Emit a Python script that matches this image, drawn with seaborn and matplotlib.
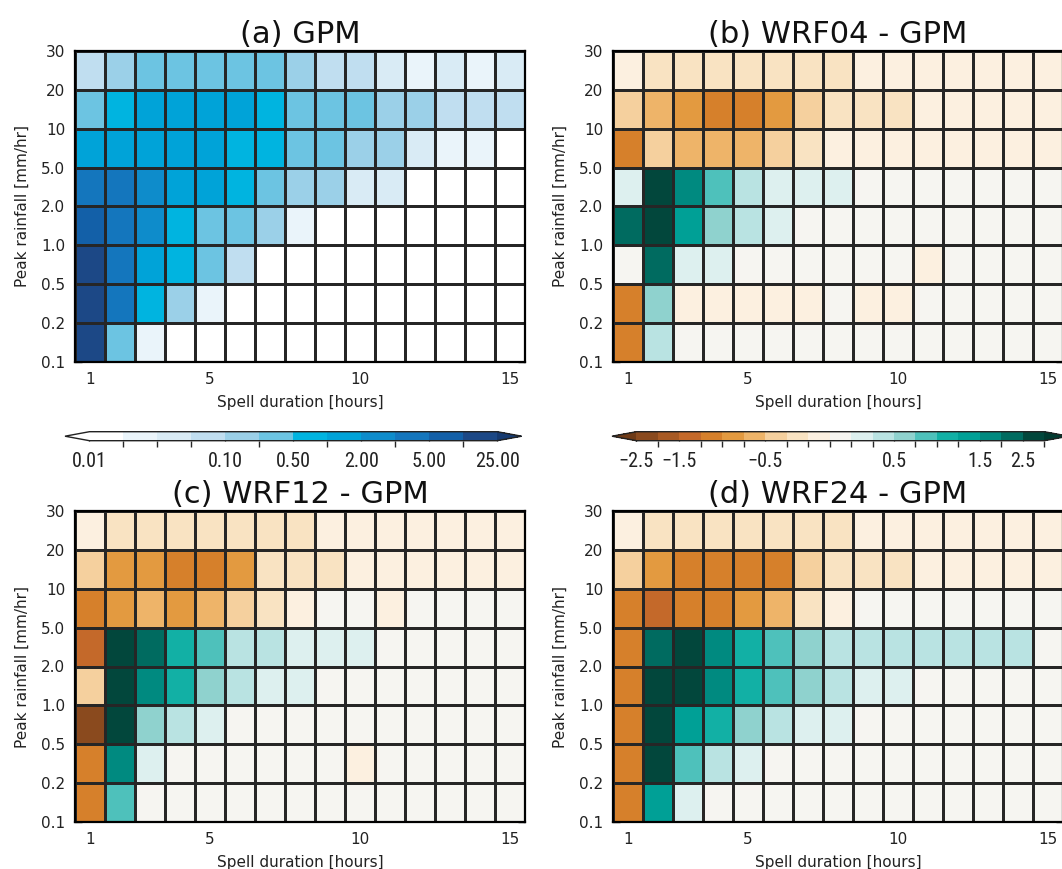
import os
import numpy as np
import matplotlib
matplotlib.use("Agg")
import matplotlib.pyplot as plt
from matplotlib import font_manager
from matplotlib.font_manager import FontProperties
from matplotlib.colors import ListedColormap, BoundaryNorm
import seaborn as sns

sns.set_theme(style="white")
plt.rcParams["font.family"] = ["DejaVu Sans"]


def narrow_font():
    """Return (FontProperties, size) for a narrow sans face for colourbar labels."""
    best = None
    for f in font_manager.fontManager.ttflist:
        base = os.path.basename(f.fname).lower()
        if any(k in base for k in ("bold", "italic", "oblique", "mono", "serif", "light", "thin", "medium", "black")):
            continue
        if "liberationsansnarrow" in base:
            rank, size = 0, 15
        elif "robotocondensed" in base:
            rank, size = 1, 14.5
        elif "dejavusanscondensed" in base:
            rank, size = 2, 13.5
        elif base.startswith("roboto-regular") or base == "roboto.ttf":
            rank, size = 3, 13
        else:
            continue
        if best is None or rank < best[0]:
            best = (rank, f.fname, size)
    if best is None:
        return FontProperties(family="Roboto"), 13
    return FontProperties(fname=best[1]), best[2]


CB_FONT, CB_SIZE = narrow_font()

# ---------------------------------------------------------------- data
durations = list(range(1, 16))
duration_ticks = [1, 5, 10, 15]
# peak-rainfall bin edges, listed top (largest) to bottom
peak_edges = ["30", "20", "10", "5.0", "2.0", "1.0", "0.5", "0.2", "0.1"]

# GPM spell frequency; rows run from the 20-30 mm/hr bin down to 0.1-0.2
gpm = [
    [0.085, 0.18, 0.35, 0.35, 0.35, 0.35, 0.35, 0.18, 0.085, 0.085, 0.055, 0.03, 0.055, 0.03, 0.055],
    [0.35, 0.7, 1.5, 1.5, 1.5, 1.5, 0.7, 0.35, 0.35, 0.35, 0.18, 0.18, 0.085, 0.085, 0.085],
    [1.5, 1.5, 1.5, 1.5, 1.5, 0.7, 0.7, 0.35, 0.35, 0.18, 0.18, 0.055, 0.03, 0.03, 0.015],
    [4.0, 4.0, 2.5, 1.5, 1.5, 0.7, 0.35, 0.18, 0.18, 0.055, 0.055, 0.015, 0.015, 0.015, 0.015],
    [7.0, 4.0, 2.5, 0.7, 0.35, 0.35, 0.18, 0.03, 0.015, 0.015, 0.005, 0.005, 0.005, 0.005, 0.005],
    [15.0, 4.0, 1.5, 0.7, 0.35, 0.085, 0.015, 0.005, 0.005, 0.005, 0.005, 0.005, 0.005, 0.005, 0.005],
    [15.0, 4.0, 0.7, 0.18, 0.03, 0.015, 0.005, 0.005, 0.005, 0.005, 0.005, 0.005, 0.005, 0.005, 0.005],
    [15.0, 0.35, 0.03, 0.005, 0.005, 0.005, 0.005, 0.005, 0.005, 0.005, 0.005, 0.005, 0.005, 0.005, 0.005],
]

wrf04_minus_gpm = [
    [-0.1, -0.2, -0.2, -0.2, -0.2, -0.2, -0.2, -0.2, -0.1, -0.1, -0.1, -0.1, -0.1, -0.1, -0.1],
    [-0.4, -0.6, -0.85, -1.1, -1.1, -0.85, -0.4, -0.2, -0.2, -0.2, -0.1, -0.1, -0.1, -0.1, -0.1],
    [-1.1, -0.4, -0.6, -0.6, -0.6, -0.4, -0.2, -0.1, -0.1, -0.1, -0.1, -0.1, -0.1, -0.1, -0.1],
    [0.2, 2.8, 1.7, 0.9, 0.4, 0.2, 0.2, 0.2, 0.05, 0.05, 0.05, 0.05, 0.05, 0.05, 0.05],
    [2.2, 2.8, 1.4, 0.6, 0.4, 0.2, 0.05, 0.05, 0.05, 0.05, 0.05, 0.05, 0.05, 0.05, 0.05],
    [0.05, 2.2, 0.2, 0.2, 0.05, 0.05, 0.05, 0.05, 0.05, 0.05, -0.1, 0.05, 0.05, 0.05, 0.05],
    [-1.1, 0.6, -0.1, -0.1, -0.1, -0.1, -0.1, 0.05, -0.1, -0.1, 0.05, 0.05, 0.05, 0.05, 0.05],
    [-1.1, 0.4, 0.05, 0.05, 0.05, 0.05, 0.05, 0.05, 0.05, 0.05, 0.05, 0.05, 0.05, 0.05, 0.05],
]

wrf12_minus_gpm = [
    [-0.1, -0.2, -0.2, -0.2, -0.2, -0.2, -0.2, -0.2, -0.1, -0.1, -0.1, -0.1, -0.1, -0.1, -0.1],
    [-0.4, -0.85, -0.85, -1.1, -1.1, -0.85, -0.2, -0.2, -0.2, -0.1, -0.1, -0.1, -0.1, -0.1, -0.1],
    [-1.1, -0.85, -0.6, -0.85, -0.6, -0.4, -0.2, -0.1, 0.05, 0.05, -0.1, 0.05, 0.05, 0.05, 0.05],
    [-1.4, 2.8, 2.2, 1.1, 0.9, 0.4, 0.4, 0.2, 0.2, 0.2, 0.05, 0.05, 0.05, 0.05, 0.05],
    [-0.4, 2.8, 1.7, 1.1, 0.6, 0.4, 0.2, 0.2, 0.05, 0.05, 0.05, 0.05, 0.05, 0.05, 0.05],
    [-2.2, 2.8, 0.6, 0.4, 0.2, 0.05, 0.05, 0.05, 0.05, 0.05, 0.05, 0.05, 0.05, 0.05, 0.05],
    [-1.1, 1.7, 0.2, 0.05, 0.05, 0.05, 0.05, 0.05, 0.05, -0.1, 0.05, 0.05, 0.05, 0.05, 0.05],
    [-1.1, 0.9, 0.05, 0.05, 0.05, 0.05, 0.05, 0.05, 0.05, 0.05, 0.05, 0.05, 0.05, 0.05, 0.05],
]

wrf24_minus_gpm = [
    [-0.1, -0.2, -0.2, -0.2, -0.2, -0.2, -0.2, -0.2, -0.1, -0.1, -0.1, -0.1, -0.1, -0.1, -0.1],
    [-0.4, -0.85, -1.1, -1.1, -1.1, -1.1, -0.4, -0.2, -0.2, -0.2, -0.1, -0.1, -0.1, -0.1, -0.1],
    [-1.1, -1.4, -1.1, -1.1, -0.85, -0.6, -0.2, -0.1, 0.05, 0.05, 0.05, 0.05, 0.05, 0.05, 0.05],
    [-1.1, 2.2, 2.8, 1.7, 1.1, 0.9, 0.6, 0.4, 0.4, 0.4, 0.4, 0.4, 0.4, 0.4, 0.05],
    [-1.1, 2.8, 2.8, 1.7, 1.1, 0.9, 0.6, 0.4, 0.2, 0.2, 0.05, 0.05, 0.05, 0.05, 0.05],
    [-1.1, 2.8, 1.4, 1.1, 0.6, 0.4, 0.2, 0.2, 0.05, 0.05, 0.05, 0.05, 0.05, 0.05, 0.05],
    [-1.1, 2.8, 0.9, 0.4, 0.2, 0.05, 0.05, 0.05, 0.05, 0.05, 0.05, 0.05, 0.05, 0.05, 0.05],
    [-1.1, 1.4, 0.2, 0.05, 0.05, 0.05, 0.05, 0.05, 0.05, 0.05, 0.05, 0.05, 0.05, 0.05, 0.05],
]

# colour levels
gpm_levels = [0.01, 0.02, 0.04, 0.07, 0.10, 0.25, 0.50, 1.0, 2.0, 3.5, 5.0, 10.0, 25.0]
gpm_ticks = [0.01, 0.10, 0.50, 2.00, 5.00, 25.00]
gpm_ticklabels = ["0.01", "0.10", "0.50", "2.00", "5.00", "25.00"]

diff_levels = [-2.5, -2.0, -1.5, -1.25, -1.0, -0.75, -0.5, -0.3, -0.15, 0.0,
               0.15, 0.3, 0.5, 0.75, 1.0, 1.25, 1.5, 2.0, 2.5, 3.0]
diff_ticks = [-2.5, -1.5, -0.5, 0.5, 1.5, 2.5]
diff_ticklabels = ["\u22122.5", "\u22121.5", "\u22120.5", "0.5", "1.5", "2.5"]

# ---------------------------------------------------------------- colours
gpm_colors = ["#ffffff", "#eaf4fa", "#d9ebf5", "#c0def0", "#9bd0e8", "#6cc4e2",
              "#00b4e0", "#00a3d8", "#0e8ccb", "#1476bd", "#1360a8", "#1c4886"]
gpm_cmap = ListedColormap(gpm_colors)
gpm_cmap.set_under("#ffffff")
gpm_cmap.set_over("#163a70")
gpm_norm = BoundaryNorm(gpm_levels, gpm_cmap.N)

diff_colors = ["#8a4a1e", "#a85a24", "#c4692a", "#d6802b", "#e39a40", "#eeb469",
               "#f5d09e", "#f9e3c2", "#fcf0e0", "#f6f5f1", "#ddf0ef", "#b9e3e2",
               "#8fd2ce", "#4ec1bb", "#12b0a5", "#00a096", "#008a80", "#006b60",
               "#02473c"]
diff_cmap = ListedColormap(diff_colors)
diff_cmap.set_under("#6e3a16")
diff_cmap.set_over("#013a30")
diff_norm = BoundaryNorm(diff_levels, diff_cmap.N)

# ---------------------------------------------------------------- figure
W, H = 1062, 869
fig = plt.figure(figsize=(W / 100, H / 100), dpi=100)
fig.patch.set_facecolor("white")


def px_axes(left, top, width, height):
    return fig.add_axes([left / W, (H - top - height) / H, width / W, height / H])


panels = [
    ("(a) GPM", gpm, gpm_cmap, gpm_norm, (75, 51)),
    ("(b) WRF04 - GPM", wrf04_minus_gpm, diff_cmap, diff_norm, (613, 51)),
    ("(c) WRF12 - GPM", wrf12_minus_gpm, diff_cmap, diff_norm, (75, 511)),
    ("(d) WRF24 - GPM", wrf24_minus_gpm, diff_cmap, diff_norm, (613, 511)),
]

meshes = []
for title, values, cmap, norm, (lx, ty) in panels:
    ax = px_axes(lx, ty, 450, 311)
    sns.heatmap(np.array(values), ax=ax, cmap=cmap, norm=norm, cbar=False,
                linewidths=0.85, linecolor="#262626",
                xticklabels=False, yticklabels=False)
    meshes.append(ax.collections[0])
    for s in ax.spines.values():
        s.set_visible(True)
        s.set_linewidth(1.6)
        s.set_color("black")
    ax.set_xticks([d - 0.5 for d in duration_ticks])
    ax.set_xticklabels([str(d) for d in duration_ticks])
    ax.set_yticks(range(len(peak_edges)))
    ax.set_yticklabels(peak_edges)
    ax.tick_params(axis="both", direction="in", length=5, width=1.0,
                   color="#222222", labelcolor="#222222", labelsize=11,
                   top=True, right=True, bottom=True, left=True, pad=7)
    ax.tick_params(axis="y", labelrotation=0)
    ax.set_xlabel("Spell duration [hours]", fontsize=11, color="#222222", labelpad=6)
    ax.set_ylabel("Peak rainfall [mm/hr]", fontsize=11, color="#222222", labelpad=8)
    ax.set_title(title, fontsize=22, pad=6, color="#111111")

# ---------------------------------------------------------------- colourbars
# boxes include the triangular extensions (extendfrac of the inner bar each side)
cax1 = px_axes(65, 431.7, 456.7, 9)
cax2 = px_axes(612, 431.7, 456.7, 9)
cb_specs = [
    (cax1, meshes[0], gpm_ticks, gpm_ticklabels),
    (cax2, meshes[1], diff_ticks, diff_ticklabels),
]
for cax, mesh, ticks, labels in cb_specs:
    cb = fig.colorbar(mesh, cax=cax, orientation="horizontal", extend="both",
                      extendfrac=0.06, ticks=ticks)
    cb.set_ticklabels(labels)
    cb.outline.set_linewidth(1.0)
    cb.outline.set_edgecolor("#222222")
    cax.tick_params(axis="x", direction="in", length=6.5, width=0.9,
                    color="#222222", pad=8, bottom=True)
    for lab in cax.get_xticklabels():
        lab.set_fontproperties(CB_FONT)
        lab.set_fontsize(CB_SIZE)
        lab.set_color("#222222")

fig.savefig("out.png", dpi=100, facecolor="white")
